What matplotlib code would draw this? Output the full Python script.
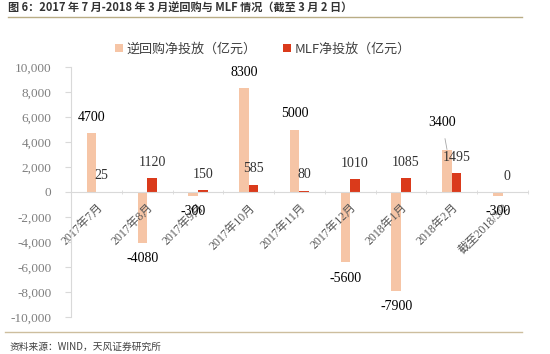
import matplotlib.pyplot as plt
from matplotlib.lines import Line2D
from matplotlib.ticker import FuncFormatter, FixedLocator

plt.rcParams['font.family'] = ['Liberation Serif', 'Noto Sans CJK SC', 'DejaVu Sans']

months = ['2017年7月', '2017年8月', '2017年9月', '2017年10月', '2017年11月',
          '2017年12月', '2018年1月', '2018年2月', '截至2018/3/2']
repo = [4700, -4080, -300, 8300, 5000, -5600, -7900, 3400, -300]
mlf = [25, 1120, 150, 585, 80, 1010, 1085, 1495, 0]

pink = '#F6C5A6'
red = '#DA3A1B'
cjk = ['Noto Sans CJK SC', 'DejaVu Sans']

fig = plt.figure(figsize=(5.5, 3.54), dpi=100)
ax = fig.add_axes([71 / 550, 1 - 317 / 354, (528 - 71) / 550, 250 / 354])

x = list(range(len(months)))
w = 0.19
ax.bar([i - w / 2 for i in x], repo, width=w, color=pink, label='逆回购净投放（亿元）')
ax.bar([i + w / 2 for i in x], mlf, width=w, color=red, label='MLF净投放（亿元）')

ax.set_xlim(-0.5, len(months) - 0.5)
ax.set_ylim(-10000, 10000)
ax.set_yticks(range(-10000, 10001, 2000))
ax.yaxis.set_major_formatter(FuncFormatter(lambda v, p: f'{int(v):,}'))

for s in ['top', 'right']:
    ax.spines[s].set_visible(False)
ax.spines['bottom'].set_position(('data', 0))
ax.spines['bottom'].set_color('#D9D9D9')
ax.spines['left'].set_color('#D9D9D9')

ax.set_xticks(x)
ax.set_xticklabels(months, rotation=45, ha='right', va='top', rotation_mode='anchor')
ax.xaxis.set_minor_locator(FixedLocator([i + 0.5 for i in range(-1, len(months))]))
ax.tick_params(axis='x', which='major', length=0, pad=7, labelsize=8.5, labelcolor='#595959')
ax.tick_params(axis='x', which='minor', length=3, direction='inout', color='#D9D9D9')
ax.tick_params(axis='y', length=4, color='#D9D9D9', pad=10, labelsize=9.5, labelcolor='#7F7F7F')

# data labels
for i, v in enumerate(repo):
    if i == 7:
        ax.annotate(str(v), xy=(i - w / 2, v), xytext=(-5, 27), textcoords='offset pixels',
                    ha='center', va='center', fontsize=10, color='black',
                    arrowprops=dict(arrowstyle='-', color='#A6A6A6', lw=0.6, shrinkA=5, shrinkB=0))
        continue
    off = 16 if v >= 0 else -16
    ax.annotate(str(v), xy=(i - w / 2, v), xytext=(0, off), textcoords='offset pixels',
                ha='center', va='center', fontsize=10, color='black')
for i, v in enumerate(mlf):
    ax.annotate(str(v), xy=(i + w / 2, v), xytext=(0, 16), textcoords='offset pixels',
                ha='center', va='center', fontsize=10, color='#333333')

fig.legend(loc='center', bbox_to_anchor=(0.478, 1 - 49 / 354), ncol=2, frameon=False,
           prop={'family': cjk, 'size': 9.4}, handlelength=0.6, handleheight=0.6,
           handletextpad=0.3, columnspacing=2.0, labelcolor='#404040')

# header / footer
fig.text(8 / 550, 1 - 8 / 354, '图 6：2017 年 7 月-2018 年 3 月逆回购与 MLF 情况（截至 3 月 2 日）',
         family=cjk, fontsize=8, fontweight='bold', color='#333333', va='center', ha='left')
fig.add_artist(Line2D([8 / 550, 522 / 550], [1 - 17 / 354] * 2, color='#B9AD85', lw=1.0))
fig.add_artist(Line2D([5 / 550, 522 / 550], [1 - 332 / 354] * 2, color='#CDBE9E', lw=1.0))
fig.text(10 / 550, 1 - 347 / 354, '资料来源：WIND，天风证券研究所',
         family=cjk, fontsize=7, color='#404040', va='center', ha='left')

fig.savefig('out.png', dpi=100)
